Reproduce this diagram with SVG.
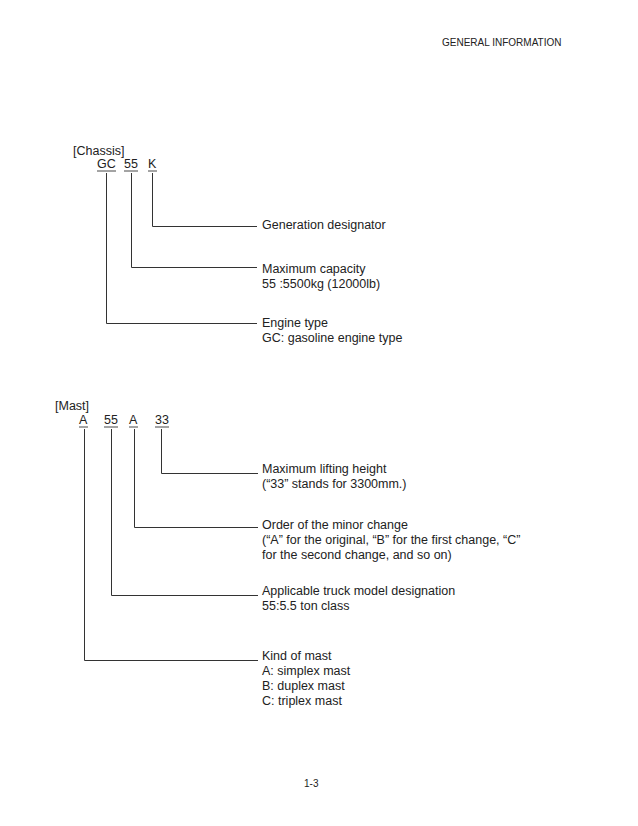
<svg xmlns="http://www.w3.org/2000/svg" width="638" height="826" viewBox="0 0 638 826">
<style>
text{font-family:"Liberation Sans",Arial,sans-serif;font-size:12.5px;fill:#222}
.hd{font-size:10px}
.ln{stroke:#333;stroke-width:1;fill:none}
.ul{stroke:#333;stroke-width:0.9}
</style>
<rect width="638" height="826" fill="#fff"/>
<text class="hd" x="442" y="46">GENERAL INFORMATION</text>
<g id="chassis-title"><text x="73" y="155">[Chassis]</text></g>
<g id="chassis-code">
<text x="97" y="168">GC</text><line class="ul" x1="97" y1="171" x2="116" y2="171"/>
<text x="124" y="168">55</text><line class="ul" x1="124" y1="171" x2="138" y2="171"/>
<text x="148" y="168">K</text><line class="ul" x1="148" y1="171" x2="157" y2="171"/>
</g>
<g id="label-generation"><text x="262" y="229">Generation designator</text></g>
<g id="label-capacity"><text x="262" y="273">Maximum capacity</text><text x="262" y="288">55 :5500kg (12000lb)</text></g>
<g id="label-engine"><text x="262" y="327">Engine type</text><text x="262" y="342">GC: gasoline engine type</text></g>
<g id="mast-title"><text x="55" y="410">[Mast]</text></g>
<g id="mast-code">
<text x="79" y="424">A</text><line class="ul" x1="79" y1="427" x2="88" y2="427"/>
<text x="104" y="424">55</text><line class="ul" x1="104" y1="427" x2="118" y2="427"/>
<text x="129" y="424">A</text><line class="ul" x1="129" y1="427" x2="138" y2="427"/>
<text x="155" y="424">33</text><line class="ul" x1="155" y1="427" x2="169" y2="427"/>
</g>
<g id="label-lifting"><text x="262" y="473">Maximum lifting height</text><text x="262" y="488">(“33” stands for 3300mm.)</text></g>
<g id="label-minor"><text x="262" y="529">Order of the minor change</text><text x="262" y="544">(“A” for the original, “B” for the first change, “C”</text><text x="262" y="559">for the second change, and so on)</text></g>
<g id="label-model"><text x="262" y="595">Applicable truck model designation</text><text x="262" y="610">55:5.5 ton class</text></g>
<g id="label-kind"><text x="262" y="660">Kind of mast</text><text x="262" y="675">A: simplex mast</text><text x="262" y="690">B: duplex mast</text><text x="262" y="705">C: triplex mast</text></g>
<g id="connectors">
<polyline class="ln" points="152.5,173 152.5,226.5 257,226.5"/>
<polyline class="ln" points="131.5,173 131.5,267.5 257,267.5"/>
<polyline class="ln" points="106.5,173 106.5,323.5 257,323.5"/>
<polyline class="ln" points="161.5,429 161.5,473.5 258,473.5"/>
<polyline class="ln" points="134.5,429 134.5,527.5 258,527.5"/>
<polyline class="ln" points="111.5,429 111.5,595.5 258,595.5"/>
<polyline class="ln" points="84.5,429 84.5,660.5 258,660.5"/>
</g>
<text x="304" y="787" style="font-size:10px">1-3</text>
</svg>
